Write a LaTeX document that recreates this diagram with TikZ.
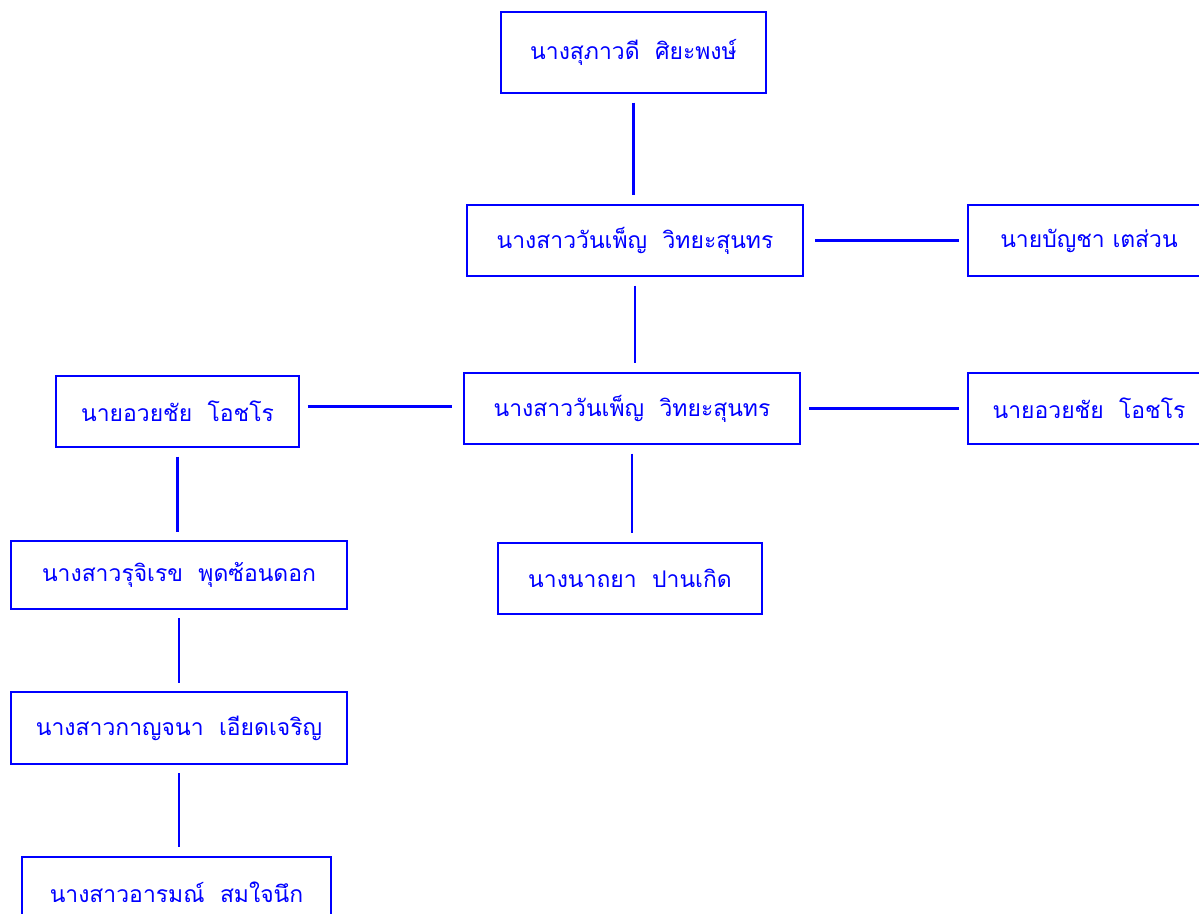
\documentclass[tikz,border=0pt]{standalone}
\usepackage{fontspec}
\newfontfamily\thaifont[Script=Thai]{Loma}
\usetikzlibrary{calc}

\begin{document}
\begin{tikzpicture}[
    x=0.025cm, y=-0.025cm,
    font=\thaifont\fontsize{16.3}{20}\selectfont,
    box/.style={draw=blue, line width=1.4pt, text=blue, inner sep=0pt, minimum height=1.78cm},
    sbox/.style={box, minimum width=6.05cm},
    mbox/.style={box, minimum width=6.6cm},
    lbox/.style={box, minimum width=8.4cm},
    link/.style={draw=blue, line width=1.5pt, shorten >=6pt, shorten <=6pt}
]
\useasboundingbox (0,0) rectangle (1199,914);

% =========================================================
% 1) MIDDLE COLUMN
% =========================================================
\node[mbox, minimum height=2.03cm] (top) at (633.5,52.5) {นางสุภาวดี~~ศิยะพงษ์};
\node[lbox] (mid) at (635,240.5) {นางสาววันเพ็ญ~~วิทยะสุนทร};
\node[lbox] (main) at (632,408.5) {นางสาววันเพ็ญ~~วิทยะสุนทร};
\node[mbox] (child) at (630,578.5) {นางนาถยา~~ปานเกิด};

\draw[link] (top.south) -- (top.south |- mid.north);
\draw[link] (mid.south) -- (mid.south |- main.north);
\draw[link] (main.south) -- (main.south |- child.north);

% =========================================================
% 2) RIGHT SIDE (cut by the page edge)
% =========================================================
\node[sbox] (midR) at (1089,240.5) {นายบัญชา เตส่วน};
\node[sbox] (mainR) at (1089,408.5) {นายอวยชัย~~โอชโร};

\draw[link, shorten <=8pt] (mid.east) -- (midR.west);
\draw[link] (main.east) -- (main.east -| mainR.west);

% =========================================================
% 3) LEFT COLUMN
% =========================================================
\node[sbox] (left) at (177.5,411.5) {นายอวยชัย~~โอชโร};
\node[lbox, minimum height=1.7cm] (left1) at (179,575) {นางสาวรุจิเรข~~พุดซ้อนดอก};
\node[lbox] (left2) at (179,728) {นางสาวกาญจนา~~เอียดเจริญ};
\node[box, minimum width=7.72cm] (left3) at (176.5,892.5) {นางสาวอารมณ์~~สมใจนึก};

\draw[link, shorten >=8pt] ($(left.east)+(0,-5)$) -- ($(left.east -| main.west)+(0,-5)$);
\draw[link] (left.south) -- (left.south |- left1.north);
\draw[link] (left1.south) -- (left1.south |- left2.north);
\draw[link] (left2.south) -- (left2.south |- left3.north);

\end{tikzpicture}
\end{document}
